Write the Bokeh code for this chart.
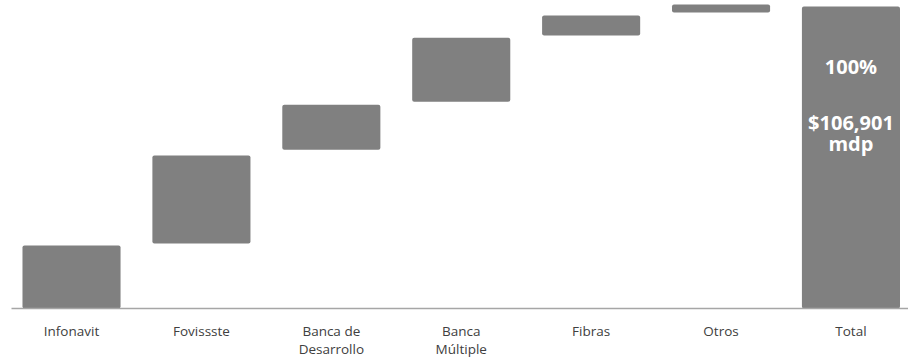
from bokeh.plotting import figure
from bokeh.models import ColumnDataSource, Range1d, FixedTicker
from bokeh.core.properties import value
from bokeh.embed import file_html
from bokeh.resources import INLINE

categories = ["Infonavit", "Fovissste", "Banca de\nDesarrollo", "Banca\nMúltiple", "Fibras", "Otros", "Total"]
bar_bottom = [0.0, 21.5, 52.6, 68.5, 90.4, 98.0, 0.0]
bar_top = [20.9, 50.7, 67.5, 89.7, 97.0, 100.7, 100.0]
total_share = "100%"
total_amount = "$106,901"
total_unit = "mdp"

xs = list(range(len(categories)))
src = ColumnDataSource(data=dict(x=xs, bottom=bar_bottom, top=bar_top))

p = figure(frame_width=897, frame_height=308, output_backend="svg", toolbar_location=None,
           x_range=Range1d(-0.462, 6.443), y_range=Range1d(0, 102.0),
           y_axis_location=None, min_border_left=11, min_border_right=0, min_border_top=0,
           min_border_bottom=52)
p.outline_line_color = None
p.xgrid.visible = False
p.ygrid.visible = False

p.vbar(x="x", bottom="bottom", top="top", width=0.755, source=src,
       fill_color="#808080", line_color=None, border_radius=2)

ax = p.xaxis[0]
ax.ticker = FixedTicker(ticks=xs)
ax.major_label_overrides = {i: c for i, c in zip(xs, categories)}
ax.major_tick_line_color = None
ax.minor_tick_line_color = None
ax.major_tick_out = 0
ax.major_tick_in = 0
ax.axis_line_color = "#A6A6A6"
ax.axis_line_width = 1.5
ax.major_label_standoff = 13
ax.major_label_text_font = "Open Sans"
ax.major_label_text_font_size = "13.5px"
ax.major_label_text_color = "#404040"
ax.major_label_text_line_height = 1.0

tx = xs[-1]
for label, yv in [(total_share, 80.2), (total_amount, 61.6), (total_unit, 54.6)]:
    p.text(x=[tx], y=[yv], text=[label], text_align="center", text_baseline="alphabetic",
           text_font=value("Open Sans"), text_font_style="bold", text_font_size="20px",
           text_color="white")

open("out.html", "w").write(file_html(p, INLINE))
